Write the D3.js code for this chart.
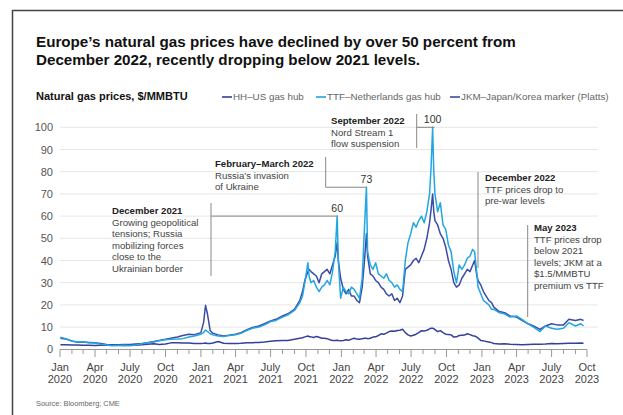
<!DOCTYPE html>
<html>
<head>
<meta charset="utf-8">
<script src="https://cdn.jsdelivr.net/npm/d3@7"></script>
<style>
  body { margin: 0; background: #fff; }
  svg { font-family: "Liberation Sans", Arial, sans-serif; }
  .grid line { stroke: #e6e6e6; stroke-width: 1; }
  .ytick { font-size: 11px; fill: #555; }
  .xtick { font-size: 11px; fill: #444; }
  .note-head { font-size: 9.6px; font-weight: bold; fill: #222; }
  .note-body { font-size: 9.6px; fill: #444; }
  .note-line { stroke: #888; stroke-width: 1; fill: none; }
  .peak { font-size: 10.5px; fill: #333; }
</style>
</head>
<body>
<div id="chart"></div>
<script>

// prices in $/MMBTU
// (twice a month in calm stretches, weekly from autumn 2021 to early 2023)
var dates = [
  // 2020 – Aug 2021
  "2020-01-02","2020-01-16","2020-02-01","2020-02-15","2020-03-01","2020-03-15","2020-04-01","2020-04-15",
  "2020-05-01","2020-05-15","2020-06-01","2020-06-15","2020-07-01","2020-07-15","2020-08-01","2020-08-15",
  "2020-09-01","2020-09-15","2020-10-01","2020-10-15","2020-11-01","2020-11-15","2020-12-01","2020-12-15",
  "2021-01-01","2021-01-08","2021-01-13","2021-01-18","2021-01-25","2021-02-01","2021-02-15","2021-03-01",
  "2021-03-15","2021-04-01","2021-04-15","2021-05-01","2021-05-15","2021-06-01","2021-06-15","2021-07-01",
  "2021-07-15","2021-08-01","2021-08-15","2021-09-01",
  // Sep 2021 – Jan 2023
  "2021-09-15","2021-09-22","2021-09-28","2021-10-06","2021-10-09","2021-10-14","2021-10-21","2021-10-28",
  "2021-11-04","2021-11-11","2021-11-18","2021-11-25","2021-12-02","2021-12-09","2021-12-16","2021-12-21",
  "2021-12-24","2021-12-30","2022-01-06","2022-01-13","2022-01-20","2022-01-27","2022-02-03","2022-02-10",
  "2022-02-17","2022-02-24","2022-03-02","2022-03-07","2022-03-10","2022-03-17","2022-03-24","2022-03-31",
  "2022-04-07","2022-04-14","2022-04-21","2022-04-28","2022-05-05","2022-05-12","2022-05-19","2022-05-26",
  "2022-06-02","2022-06-09","2022-06-16","2022-06-23","2022-06-30","2022-07-07","2022-07-14","2022-07-21",
  "2022-07-28","2022-08-04","2022-08-11","2022-08-18","2022-08-22","2022-08-26","2022-08-29","2022-09-01",
  "2022-09-08","2022-09-15","2022-09-22","2022-09-29","2022-10-06","2022-10-13","2022-10-20","2022-10-27",
  "2022-11-03","2022-11-10","2022-11-17","2022-11-24","2022-12-01","2022-12-08","2022-12-13","2022-12-19",
  "2022-12-22","2022-12-29","2023-01-05","2023-01-12","2023-01-19","2023-01-26",
  // Feb 2023 on
  "2023-02-01","2023-02-15","2023-03-01","2023-03-15","2023-04-01","2023-04-15","2023-05-01","2023-05-15",
  "2023-06-01","2023-06-15","2023-07-01","2023-07-15","2023-08-01","2023-08-15","2023-09-01","2023-09-15","2023-09-22"
];

var ttf = [
  5.4,4.8,3.6,3.3,3.4,3.0,2.8,2.3,
  1.9,1.6,1.7,1.8,1.6,1.9,2.5,2.9,
  3.3,3.9,4.3,4.5,4.6,4.8,5.5,6.0,
  6.8,7.5,8.7,8.0,7.0,6.5,6.0,5.8,
  6.2,6.5,7.2,8.5,9.5,10.0,11.0,12.5,
  13.0,14.5,15.5,17.5,

  21,24,30,39,33,30,31,28,
  26,28,29,31,29,35,44,60,
  40,23,28,26,25,28,27,25,
  23,32,55,73,44,38,36,39,
  34,33,32,34,31,30,28,29,
  27,26,40,48,52,57,55,58,
  60,57,62,70,82,100,80,70,
  62,66,56,54,47,44,35,30,
  38,36,38,41,42,45,44,34,
  28,25,22,21,20,18,

  18,16.5,16,14.5,15,13.5,11.5,10.0,
  8.0,10.5,9.5,9.0,9.5,12.0,10.5,11.5,10.5
];

var jkm = [
  5.0,4.6,3.8,3.2,3.3,3.1,2.9,2.6,
  2.2,2.0,2.1,2.2,2.2,2.4,2.6,3.0,
  3.5,4.0,4.5,5.0,5.5,6.2,6.8,6.6,
  7.5,12,19.8,16,8.5,7.2,6.5,6.0,
  6.3,6.8,7.5,8.8,9.8,10.5,11.5,12.8,
  13.5,15.0,16.0,18.0,

  22,26,31,35,36,35,34,33,
  30,34,35,36,34,38,42,48,
  40,32,27,25,27,24,24,22,
  21,28,40,52,42,34,33,31,
  30,28,27,25,24,25,22,23,
  21,24,36,37,38,40,41,39,
  42,45,50,57,63,70,62,58,
  56,52,50,46,40,36,30,28,
  29,32,34,36,35,38,40,33,
  31,29,26,24,22,21,

  19,17,16.5,15,14.5,13.0,11.5,10.5,
  9.0,10.5,11.5,11.0,11.0,13.5,13,13.5,13.0
];

var hh = [
  2.1,2.0,1.9,1.9,1.8,1.8,1.7,1.8,
  1.9,1.8,1.8,1.7,1.8,1.8,2.0,2.3,
  2.5,2.2,2.4,2.9,3.0,2.8,2.8,2.6,
  2.6,2.7,2.8,2.6,2.6,2.8,3.5,2.7,
  2.6,2.6,2.7,2.9,3.0,3.1,3.3,3.6,
  3.8,4.0,4.0,4.5,

  5.0,5.2,5.6,6.0,5.7,5.6,5.3,5.8,
  5.4,5.0,5.0,4.8,4.3,4.0,4.0,4.1,
  4.0,3.9,4.0,4.3,4.1,4.6,5.0,4.6,
  4.5,4.8,5.0,5.0,4.8,5.0,5.5,5.6,
  6.2,7.0,6.8,7.3,8.0,8.2,8.1,8.5,
  8.6,9.0,7.5,6.5,6.0,6.3,6.8,7.5,
  8.4,8.2,8.6,9.2,9.5,9.5,9.3,8.9,
  8.0,8.4,7.5,6.8,6.7,6.5,5.5,5.6,
  6.2,6.3,6.4,7.0,6.6,6.1,6.0,5.5,
  5.0,4.0,3.8,3.5,3.3,3.0,

  2.6,2.4,2.5,2.3,2.2,2.1,2.2,2.3,
  2.3,2.4,2.6,2.5,2.6,2.7,2.7,2.8,2.7
];

if (ttf.length != dates.length || jkm.length != dates.length || hh.length != dates.length)
  throw new Error("series length mismatch " + dates.length + " " + ttf.length + " " + jkm.length + " " + hh.length);

var yTicks = [0,10,20,30,40,50,60,70,80,90,100];
var xTickLabels = ["Jan","Apr","July","Oct"];

var seriesNames = ["HH–US gas hub", "TTF–Netherlands gas hub", "JKM–Japan/Korea marker (Platts)"];
var seriesColors = ["#34409a", "#22a6e2", "#3a4ca6"];

var width = 623, height = 415;
var parse = d3.timeParse("%Y-%m-%d");
var dd = dates.map(parse);

var svg = d3.select("#chart").append("svg")
    .attr("width", width)
    .attr("height", height);

// frame of the original screenshot
svg.append("line").attr("x1", 12.5).attr("x2", 12.5).attr("y1", 10).attr("y2", 415)
    .attr("stroke", "#444").attr("stroke-width", 1.5);
svg.append("line").attr("x1", 12).attr("x2", 623).attr("y1", 10.5).attr("y2", 10.5)
    .attr("stroke", "#444").attr("stroke-width", 1.5);

var x = d3.scaleTime()
    .domain([new Date(2020, 0, 1), new Date(2023, 9, 1)])
    .range([60, 587]);

var y = d3.scaleLinear()
    .domain([0, 100])
    .range([349.3, 127.3]);

// title
var title = svg.append("g").attr("font-weight", "bold").attr("fill", "#111").attr("font-size", "15.2px");
title.append("text").attr("x", 36).attr("y", 47).text("Europe’s natural gas prices have declined by over 50 percent from");
title.append("text").attr("x", 36).attr("y", 65).text("December 2022, recently dropping below 2021 levels.");

svg.append("text")
    .attr("x", 36).attr("y", 100)
    .attr("font-size", "11px").attr("font-weight", "bold").attr("fill", "#111")
    .text("Natural gas prices, $/MMBTU");

// legend
var legendX = [222, 316, 450];
var legend = svg.selectAll("g.legend")
  .data(seriesNames)
  .enter().append("g")
    .attr("class", "legend")
    .attr("transform", function(d, i) { return "translate(" + legendX[i] + ",97)"; });
legend.append("line")
    .attr("x1", 0).attr("x2", 10)
    .attr("stroke", function(d, i) { return seriesColors[i]; })
    .attr("stroke-width", 1.6);
legend.append("text")
    .attr("x", 11).attr("y", 3.3)
    .attr("font-size", "9.8px").attr("fill", "#666")
    .text(function(d) { return d; });

// grid + y labels
svg.append("g").attr("class", "grid")
  .selectAll("line")
  .data(yTicks.slice(1))
  .enter().append("line")
    .attr("x1", 60).attr("x2", 598)
    .attr("y1", function(d) { return y(d); })
    .attr("y2", function(d) { return y(d); });

svg.append("g")
  .selectAll("text")
  .data(yTicks)
  .enter().append("text")
    .attr("class", "ytick")
    .attr("x", 53)
    .attr("y", function(d) { return y(d) + 4; })
    .attr("text-anchor", "end")
    .text(function(d) { return d; });

// x axis: monthly minor ticks, quarterly labelled ticks
var xAxis = svg.append("g");
xAxis.append("line")
    .attr("x1", x.range()[0]).attr("x2", x.range()[1])
    .attr("y1", 349.5).attr("y2", 349.5)
    .attr("stroke", "#999").attr("stroke-width", 1.2);

var months = d3.timeMonth.range(x.domain()[0], d3.timeDay.offset(x.domain()[1], 1));
xAxis.selectAll("line.tick")
  .data(months)
  .enter().append("line")
    .attr("class", "tick")
    .attr("x1", function(d) { return x(d); })
    .attr("x2", function(d) { return x(d); })
    .attr("y1", 349.5)
    .attr("y2", function(d) { return d.getMonth() % 3 == 0 ? 357 : 354; })
    .attr("stroke", "#999").attr("stroke-width", 1);

var quarters = months.filter(function(d) { return d.getMonth() % 3 == 0; });
var ql = xAxis.selectAll("text.xtick")
  .data(quarters)
  .enter().append("text")
    .attr("class", "xtick")
    .attr("text-anchor", "middle")
    .attr("x", function(d) { return x(d); });
ql.append("tspan").attr("x", function(d) { return x(d); }).attr("y", 371)
    .text(function(d) { return xTickLabels[d.getMonth() / 3]; });
ql.append("tspan").attr("x", function(d) { return x(d); }).attr("y", 383)
    .text(function(d) { return d.getFullYear(); });

// series lines
var line = d3.line()
    .x(function(d, i) { return x(dd[i]); })
    .y(function(d) { return y(d); });

[[hh, 0], [jkm, 2], [ttf, 1]].forEach(function(s) {
  svg.append("path")
      .datum(s[0])
      .attr("fill", "none")
      .attr("stroke", seriesColors[s[1]])
      .attr("stroke-width", 1.5)
      .attr("stroke-linejoin", "round")
      .attr("d", line);
});

// annotations
function peakAt(day) {
  var i = dates.indexOf(day);
  return { x: x(dd[i]), y: y(ttf[i]), v: ttf[i] };
}

function note(tx, ty, lines) {
  var t = svg.append("text").attr("x", tx).attr("y", ty);
  lines.forEach(function(l, i) {
    t.append("tspan")
      .attr("x", tx).attr("y", ty + i * 11.6)
      .attr("class", i == 0 ? "note-head" : "note-body")
      .text(l);
  });
}

var p60 = peakAt("2021-12-21"), p73 = peakAt("2022-03-07"), p100 = peakAt("2022-08-26");

note(112, 214, ["December 2021", "Growing geopolitical", "tensions; Russia", "mobilizing forces", "close to the", "Ukrainian border"]);
svg.append("path").attr("class", "note-line")
    .attr("d", "M211,203V276M211," + p60.y + "H" + p60.x);
svg.append("text").attr("class", "peak").attr("x", p60.x).attr("y", p60.y - 4)
    .attr("text-anchor", "middle").text(p60.v);

note(215, 167, ["February–March 2022", "Russia’s invasion", "of Ukraine"]);
svg.append("path").attr("class", "note-line")
    .attr("d", "M325.7,157V" + p73.y + "H" + p73.x);
svg.append("text").attr("class", "peak").attr("x", p73.x).attr("y", p73.y - 4)
    .attr("text-anchor", "middle").text(p73.v);

note(331, 124, ["September 2022", "Nord Stream 1", "flow suspension"]);
svg.append("path").attr("class", "note-line")
    .attr("d", "M416.7,114V148M416.7," + p100.y + "H" + (p100.x + 2));
svg.append("text").attr("class", "peak").attr("x", p100.x).attr("y", p100.y - 4)
    .attr("text-anchor", "middle").text(p100.v);

note(485, 181, ["December 2022", "TTF prices drop to", "pre-war levels"]);
svg.append("path").attr("class", "note-line").attr("d", "M478,172V268");

note(534, 231, ["May 2023", "TTF prices drop", "below 2021", "levels; JKM at a", "$1.5/MMBTU", "premium vs TTF"]);
svg.append("path").attr("class", "note-line").attr("d", "M527.7,225V317");

svg.append("text")
    .attr("x", 36).attr("y", 406)
    .attr("font-size", "7.4px").attr("fill", "#666")
    .text("Source: Bloomberg; CME");

</script>
</body>
</html>
